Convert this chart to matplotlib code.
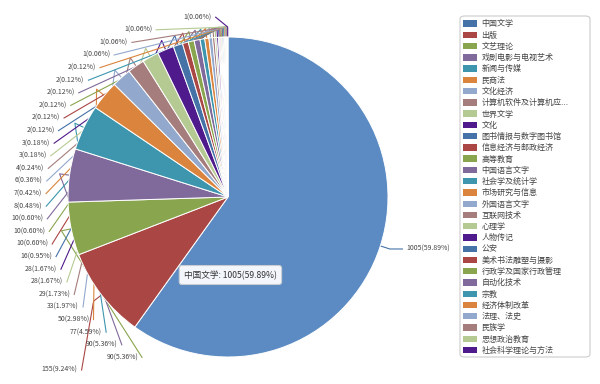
import numpy as np
import matplotlib
matplotlib.use('Agg')
import matplotlib.pyplot as plt
from matplotlib.patches import FancyBboxPatch, Patch

plt.rcParams['font.family'] = ['Noto Sans CJK SC', 'DejaVu Sans']

categories = ['中国文学', '出版', '文艺理论', '戏剧电影与电视艺术', '新闻与传媒', '民商法',
              '文化经济', '计算机软件及计算机应用', '世界文学', '文化', '图书情报与数字图书馆',
              '信息经济与邮政经济', '高等教育', '中国语言文字', '社会学及统计学', '市场研究与信息',
              '外国语言文字', '互联网技术', '心理学', '人物传记', '公安', '美术书法雕塑与摄影',
              '行政学及国家行政管理', '自动化技术', '宗教', '经济体制改革', '法理、法史',
              '民族学', '思想政治教育', '社会科学理论与方法']
legend_labels = categories[:7] + ['计算机软件及计算机应...'] + categories[8:]
values = [1005, 155, 90, 90, 77, 50, 33, 29, 28, 28, 16, 10, 10, 10, 8, 7, 6, 4, 3, 3,
          2, 2, 2, 2, 2, 2, 1, 1, 1, 1]
palette = ['#4572A7', '#AA4643', '#89A54E', '#80699B', '#3D96AE', '#DB843D',
           '#92A8CD', '#A47D7C', '#B5CA92', '#4F1A8B']
highlight_color = '#5B8BC2'

W, H = 600, 384
fig = plt.figure(figsize=(W / 100, H / 100), dpi=100)
ax = fig.add_axes([0, 0, 1, 1])

cx, cy, r = 228, H - 197, 160
L1, L2, gap = 10, 12, 4
spacing = 12.6
ymin_label = H - 370

vals = np.array(values, dtype=float)
total = vals.sum()
colors = [palette[i % len(palette)] for i in range(len(vals))]
pie_colors = [highlight_color] + colors[1:]

wedges, _ = ax.pie(vals, colors=pie_colors, startangle=90, counterclock=False,
                   center=(cx, cy), radius=r,
                   wedgeprops=dict(edgecolor='white', linewidth=0.7, zorder=2))

ax.set_xlim(0, W)
ax.set_ylim(0, H)
ax.set_aspect('auto')
ax.axis('off')

# label layout
cum = np.cumsum(vals) - vals / 2
theta = np.deg2rad(90 - cum / total * 360)
items = []
for i, t in enumerate(theta):
    p0 = (cx + r * np.cos(t), cy + r * np.sin(t))
    p1 = (cx + (r + L1) * np.cos(t), cy + (r + L1) * np.sin(t))
    d = -1 if np.cos(t) < 0 else 1
    x3 = p1[0] + d * L2
    items.append(dict(i=i, p0=p0, p1=p1, d=d, y=p1[1], x3=x3))

for side in (-1, 1):
    lst = sorted([it for it in items if it['d'] == side], key=lambda it: -it['y'])
    for k in range(1, len(lst)):
        lst[k]['y'] = min(lst[k]['y'], lst[k - 1]['y'] - spacing)
    if lst and lst[-1]['y'] < ymin_label:
        lst[-1]['y'] = ymin_label
        for k in range(len(lst) - 2, -1, -1):
            lst[k]['y'] = max(lst[k]['y'], lst[k + 1]['y'] + spacing)

for it in items:
    dy = abs(it['y'] - cy)
    if dy < r + L1:
        dX = np.sqrt((r + L1 + L2) ** 2 - dy ** 2)
    else:
        dX = abs(it['x3'] - cx)
    ax_x = cx + it['d'] * dX
    i = it['i']
    xs = [it['p0'][0], it['p1'][0], ax_x]
    ys = [it['p0'][1], it['p1'][1], it['y']]
    ax.plot(xs, ys, color=colors[i], lw=0.8, solid_joinstyle='round', zorder=1)
    pct = values[i] / total * 100
    ax.text(ax_x + it['d'] * gap, it['y'], f'{values[i]}({pct:.2f}%)',
            ha='right' if it['d'] < 0 else 'left', va='center',
            fontsize=5.0, color='#444444', zorder=3)

# tooltip
pct0 = values[0] / total * 100
ax.text(184, H - 275, f'{categories[0]}: {values[0]}({pct0:.2f}%)',
        ha='left', va='center', fontsize=6.2, color='#333333', zorder=5,
        bbox=dict(boxstyle='round,pad=0.55,rounding_size=0.3', fc='#F3F6FB',
                  ec='#C9CDD3', lw=0.8))

# legend frame
frame = FancyBboxPatch((460 / W, 1 - 357 / H), 130 / W, 341 / H,
                       boxstyle='round,pad=0,rounding_size=0.008',
                       transform=fig.transFigure, fc='white', ec='#CCCCCC', lw=0.8)
fig.patches.append(frame)

handles = [Patch(facecolor=c, edgecolor='none') for c in colors]
leg = fig.legend(handles, legend_labels, loc='upper left',
                 bbox_to_anchor=(461 / W, 1 - 17 / H), frameon=False,
                 fontsize=5.8, handlelength=1.65, handleheight=0.85,
                 handletextpad=0.6, labelspacing=0.28, borderpad=0.3,
                 borderaxespad=0)
for t in leg.get_texts():
    t.set_color('#444444')

fig.savefig('out.png', dpi=100)
